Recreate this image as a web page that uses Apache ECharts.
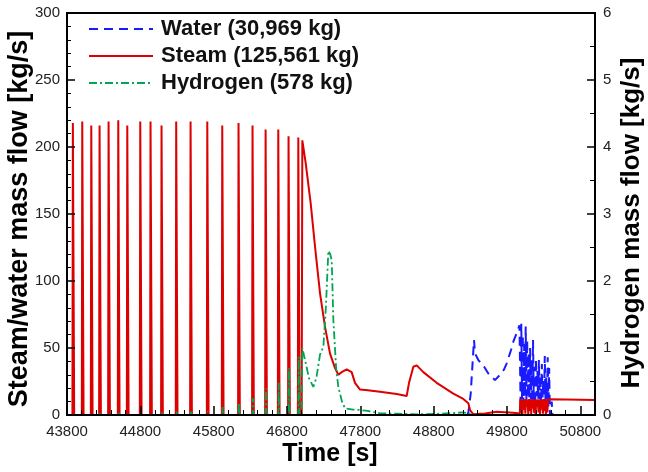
<!DOCTYPE html>
<html>
<head>
<meta charset="utf-8">
<script src="https://cdn.jsdelivr.net/npm/echarts@6/dist/echarts.min.js"></script>
<style>html,body{margin:0;padding:0;background:#fff}#c{width:648px;height:472px}</style>
</head>
<body>
<div id="c"></div>
<script>
// ---- data ----
const T0 = 43800;          // first x tick [s]
const T_MAX = 51000;       // right edge of the time axis [s]
const xTickLabels = ['43800','44800','45800','46800','47800','48800','49800','50800'];
const seriesNames = ['Water (30,969 kg)', 'Steam (125,561 kg)', 'Hydrogen (578 kg)'];

// periodic steam spikes (time, peak steam flow, accompanying hydrogen flow)
const spikeTimes = [43886,44014,44137,44250,44373,44505,44628,44805,44945,45095,45295,45491,45719,45923,46145,46336,46514,46687,46827,46960];
const spikeSteam = [218,219,216,216,219,220,216,219,219,216,219,219,219,216,218,216,213,213,208,207];
const spikeH2    = [0.02,0.02,0.02,0.03,0.02,0.03,0.03,0.04,0.03,0.04,0.05,0.05,0.06,0.12,0.18,0.25,0.40,0.48,0.70,0.87];

// steam after the last spike
const steamTailT = [47000,47009,47055,47123,47191,47250,47318,47386,47455,47500,47546,47614,47682,47727,47796,47900,48068,48296,48432,48464,48523,48569,48659,48841,49068,49204,49273,49296,49341,49500,49660,49882,49975];
const steamTailV = [0,205,188,158,121,91,66,46,35,30,32,34,32,24,19,18.5,17.4,15.7,14.2,24,36,37,32,24,16,12,8.7,3.7,0.5,1.2,2.5,1.7,1.2];
// oscillating steam burst and final plateau
const steamBurstT = [49980,49990,50000,50010,50020,50030,50040,50050,50060,50070,50080,50090,50100,50110,50120,50130,50140,50150,50160,50170,50180,50190,50200,50210,50220,50230,50240,50250,50260,50270,50280,50290,50300,50310,50320,50330,50340,50350,50360,50600,51000];
const steamBurstV = [11.7,2,11.7,0.5,11.5,4,11.7,1,11.7,6,11.6,0.5,11.7,3,11.7,0.8,11.5,5,11.7,1.5,11.7,0.5,11.6,7,11.7,2,11.7,0.5,11.5,4,11.7,1,11.7,3,11.6,0.5,11.7,2,11.7,11.6,11.2];

// water
const waterT = [49260,49273,49305,49350,49364,49409,49477,49545,49636,49705,49760,49796,49855,49886,49932,49970];
const waterV = [0,2,16,56,46,41,37,31,26,30,34,38.6,48.5,54.7,61,67];
const waterBurstT = [49975,49985,49995,50005,50015,50025,50035,50045,50055,50065,50075,50085,50095,50105,50115,50125,50135,50145,50155,50165,50175,50185,50195,50205,50215,50225,50235,50245,50255,50265,50275,50285,50295,50305,50315,50325,50335,50345,50355,50365,50375,50385,50395,50410,50420];
const waterBurstV = [67,10,68,12,60,8,53,14,66,9,56,13,46,7,50,12,41,9,56,11,36,8,42,14,33,6,41,12,30,9,38,13,26,8,44,10,28,12,43,6,35,0,2,10,0];

// hydrogen after the last spike
const h2TailT = [47000,47009,47050,47100,47159,47200,47250,47296,47330,47364,47390,47410,47432,47470,47500,47550,47591,47700,47796,47900,48068,48300,48600,48900,49100,49200,49260,49300,49400,51000];
const h2TailV = [0,1.0,0.8,0.55,0.42,0.55,0.9,1.02,1.6,2.45,2.4,2.31,1.42,0.7,0.42,0.2,0.1,0.08,0.075,0.06,0.025,0.02,0.01,0.02,0.03,0.04,0.03,0.01,0,0];

// ---- build series data (x shifted so that ticks start at T0) ----
const X = t => t - T0;
const steamData = [];
const h2Data = [];
spikeTimes.forEach((t, i) => {
  steamData.push([X(t - 12), 0], [X(t - 6), spikeSteam[i]], [X(t + 6), spikeSteam[i]], [X(t + 12), 0]);
  h2Data.push([X(t - 6), 0], [X(t), spikeH2[i]], [X(t + 6), 0]);
});
steamTailT.forEach((t, i) => steamData.push([X(t), steamTailV[i]]));
steamBurstT.forEach((t, i) => steamData.push([X(t), steamBurstV[i]]));
h2TailT.forEach((t, i) => h2Data.push([X(t), h2TailV[i]]));
const waterData = [];
waterT.forEach((t, i) => waterData.push([X(t), waterV[i]]));
waterBurstT.forEach((t, i) => waterData.push([X(t), waterBurstV[i]]));

const FONT = '"Liberation Sans", Arial, Helvetica, sans-serif';
const labelStyle = {color: '#222', fontSize: 15, fontFamily: FONT};

const chart = echarts.init(document.getElementById('c'), null, {renderer: 'canvas'});
chart.setOption({
  animation: false,
  backgroundColor: '#fff',
  grid: {left: 67, right: 53, top: 13, bottom: 57, show: true, borderColor: '#000', borderWidth: 2, backgroundColor: 'transparent'},
  legend: {
    orient: 'vertical', left: 88, top: 17, padding: 0, itemWidth: 64, itemHeight: 14, itemGap: 3,
    data: seriesNames,
    itemStyle: {opacity: 0},
    textStyle: {fontFamily: FONT, fontWeight: 'bold', fontSize: 22, color: '#111', lineHeight: 24, padding: [0, 0, 0, 3]}
  },
  xAxis: {
    type: 'value', min: 0, max: T_MAX - T0, interval: 1000, z: 10,
    axisLine: {show: true, onZero: false, lineStyle: {color: '#000', width: 2}},
    axisTick: {show: true, inside: true, length: 9, lineStyle: {color: '#000', width: 1.5}},
    minorTick: {show: true, splitNumber: 5, length: 5, lineStyle: {color: '#000', width: 1}},
    splitLine: {show: false},
    axisLabel: Object.assign({margin: 9, showMaxLabel: false, formatter: (v) => { const k = Math.round(v / 1000); return xTickLabels[k] !== undefined && v % 1000 === 0 ? xTickLabels[k] : ''; }}, labelStyle)
  },
  yAxis: [{
    type: 'value', min: 0, max: 300, interval: 50, position: 'left', z: 10,
    axisLine: {show: true, onZero: false, lineStyle: {color: '#000', width: 2}},
    axisTick: {show: true, inside: true, length: 8, lineStyle: {color: '#000', width: 1.5}},
    minorTick: {show: true, splitNumber: 5, length: 4, lineStyle: {color: '#000', width: 1}},
    splitLine: {show: false},
    axisLabel: Object.assign({margin: 7}, labelStyle)
  }, {
    type: 'value', min: 0, max: 6, interval: 1, position: 'right', z: 10,
    axisLine: {show: true, onZero: false, lineStyle: {color: '#000', width: 2}},
    axisTick: {show: true, inside: true, length: 8, lineStyle: {color: '#000', width: 1.5}},
    minorTick: {show: true, splitNumber: 2, length: 5, lineStyle: {color: '#000', width: 1}},
    splitLine: {show: false},
    axisLabel: Object.assign({margin: 8}, labelStyle)
  }],
  series: [{
    name: seriesNames[0], type: 'line', yAxisIndex: 0, symbol: 'none', data: waterData,
    lineStyle: {color: '#1a1aff', width: 2, type: [9, 6]}, itemStyle: {color: '#1a1aff'}
  }, {
    name: seriesNames[1], type: 'line', yAxisIndex: 0, symbol: 'none', data: steamData,
    lineStyle: {color: '#dd0000', width: 2}, itemStyle: {color: '#dd0000'}
  }, {
    name: seriesNames[2], type: 'line', yAxisIndex: 1, symbol: 'none', data: h2Data,
    lineStyle: {color: '#00a651', width: 1.8, type: [8, 3, 2, 3]}, itemStyle: {color: '#00a651'}
  }],
  graphic: [{
    type: 'text', x: 20, y: 219, rotation: Math.PI / 2,
    style: {text: 'Steam/water mass flow [kg/s]', font: 'bold 27px ' + FONT, fill: '#000', textAlign: 'center', textVerticalAlign: 'middle'}
  }, {
    type: 'text', x: 632, y: 223, rotation: Math.PI / 2,
    style: {text: 'Hydrogen mass flow [kg/s]', font: 'bold 26px ' + FONT, fill: '#000', textAlign: 'center', textVerticalAlign: 'middle'}
  }, {
    type: 'text', x: 330, y: 454,
    style: {text: 'Time [s]', font: 'bold 25px ' + FONT, fill: '#000', textAlign: 'center', textVerticalAlign: 'middle'}
  }]
});
</script>
</body>
</html>
